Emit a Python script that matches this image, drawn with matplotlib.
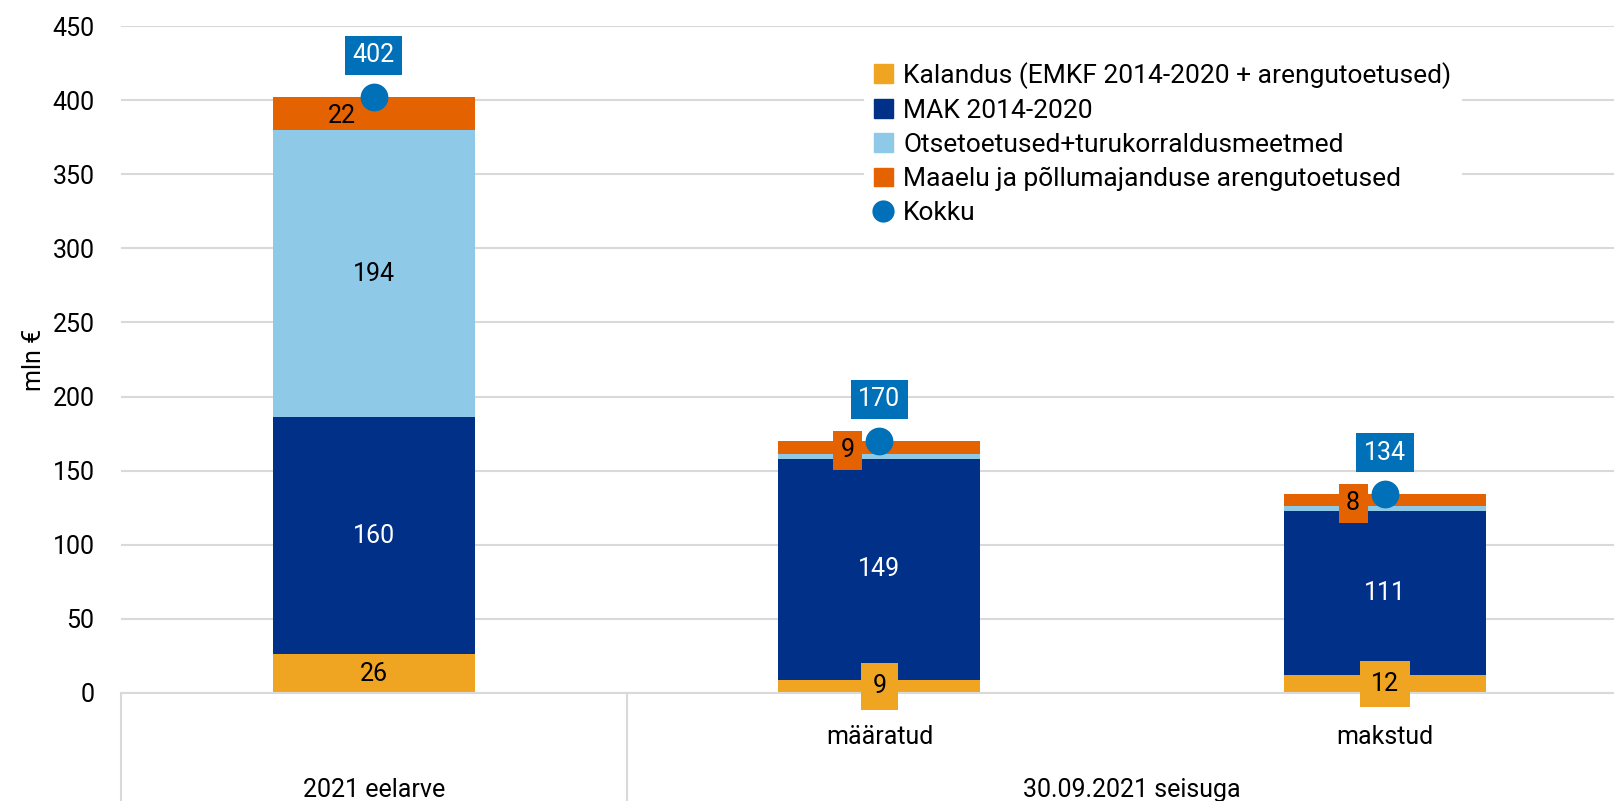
import matplotlib
matplotlib.use("Agg")
import matplotlib.pyplot as plt
from matplotlib.lines import Line2D
from matplotlib.patches import Patch

plt.rcParams['font.family'] = ['Roboto', 'DejaVu Sans']

# andmed
kategooriad = ["", "määratud", "makstud"]
grupid = ["2021 eelarve", "30.09.2021 seisuga"]
kalandus = [26, 9, 12]
mak = [160, 149, 111]
otse = [194, 3, 3]
maaelu = [22, 9, 8]
kokku = [402, 170, 134]

seeria_nimed = ["Kalandus (EMKF 2014-2020 + arengutoetused)",
                "MAK 2014-2020",
                "Otsetoetused+turukorraldusmeetmed",
                "Maaelu ja põllumajanduse arengutoetused",
                "Kokku"]

c_kal = "#F0A522"
c_mak = "#003087"
c_otse = "#8FC9E8"
c_maa = "#E46200"
c_kokku = "#0070B8"

fig = plt.figure(figsize=(16.15, 8.01), dpi=100)
ax = fig.add_axes([121/1615, 1-693/801, 1-121/1615, 667/801])

x = list(range(len(kategooriad)))
w = 0.4
b1 = kalandus
b2 = [a+b for a, b in zip(b1, mak)]
b3 = [a+b for a, b in zip(b2, otse)]

ax.bar(x, kalandus, w, color=c_kal, zorder=2)
ax.bar(x, mak, w, bottom=b1, color=c_mak, zorder=2)
ax.bar(x, otse, w, bottom=b2, color=c_otse, zorder=2)
ax.bar(x, maaelu, w, bottom=b3, color=c_maa, zorder=2)
ax.plot(x, kokku, 'o', color=c_kokku, markersize=19, zorder=5)

fs = 18
for i in x:
    # kalandus
    if kalandus[i] < 20:
        ax.text(i, kalandus[i]/2, str(kalandus[i]), ha='center', va='center', fontsize=fs,
                color='black', zorder=6,
                bbox=dict(boxstyle='square,pad=0.45', fc=c_kal, ec='none'))
    else:
        ax.text(i, kalandus[i]/2, str(kalandus[i]), ha='center', va='center', fontsize=fs,
                color='black', zorder=6)
    ax.text(i, b1[i] + mak[i]/2, str(mak[i]), ha='center', va='center', fontsize=fs,
            color='white', zorder=6)
    if otse[i] > 20:
        ax.text(i, b2[i] + otse[i]/2, str(otse[i]), ha='center', va='center', fontsize=fs,
                color='black', zorder=6)
    if maaelu[i] < 15:
        kast = dict(boxstyle='square,pad=0.3', fc=c_maa, ec='none')
    else:
        kast = None
    ax.annotate(str(maaelu[i]), (i, b3[i] + maaelu[i]/2), xytext=(-23, -2),
                textcoords='offset points', ha='center', va='center', fontsize=fs,
                color='black', zorder=6, bbox=kast)
    ax.annotate(str(kokku[i]), (i, kokku[i]), xytext=(0, 30),
                textcoords='offset points', ha='center', va='center', fontsize=fs,
                color='white', zorder=6,
                bbox=dict(boxstyle='square,pad=0.3', fc=c_kokku, ec='none'))

ax.set_xlim(-0.5, 2.455)
ax.set_ylim(0, 450)
ax.set_yticks(range(0, 451, 50))
ax.tick_params(axis='y', length=0, pad=19, labelsize=fs)
ax.set_xticks([])
ax.grid(axis='y', color='#D9D9D9', linewidth=1.5)
ax.set_axisbelow(True)
for s in ['top', 'right', 'left']:
    ax.spines[s].set_visible(False)
ax.spines['bottom'].set_color('#D9D9D9')
ax.spines['bottom'].set_linewidth(1.5)
ax.set_ylabel("mln €", fontsize=fs, labelpad=5)

# kahetasemeline x-telg
trans = ax.get_xaxis_transform()
for i in [1, 2]:
    ax.text(i, -0.066, kategooriad[i], transform=trans, ha='center', va='center', fontsize=fs)
ax.text(0, -0.145, grupid[0], transform=trans, ha='center', va='center', fontsize=fs)
ax.text(1.5, -0.145, grupid[1], transform=trans, ha='center', va='center', fontsize=fs)
for xs in [-0.5, 0.5]:
    ax.add_line(Line2D([xs, xs], [0, -0.2], transform=trans, color='#D9D9D9',
                       linewidth=1.5, clip_on=False))

handles = [Patch(color=c_kal), Patch(color=c_mak), Patch(color=c_otse), Patch(color=c_maa),
           Line2D([], [], marker='o', color=c_kokku, linestyle='none', markersize=15)]
leg = ax.legend(handles, seeria_nimed, loc='upper left', bbox_to_anchor=(0.497, 0.962),
                fontsize=19, frameon=True, fancybox=False, edgecolor='none', framealpha=1,
                handlelength=0.7, handleheight=0.7, handletextpad=0.4, labelspacing=0.38,
                borderaxespad=0)
leg.set_zorder(7)

plt.savefig("out.png")
